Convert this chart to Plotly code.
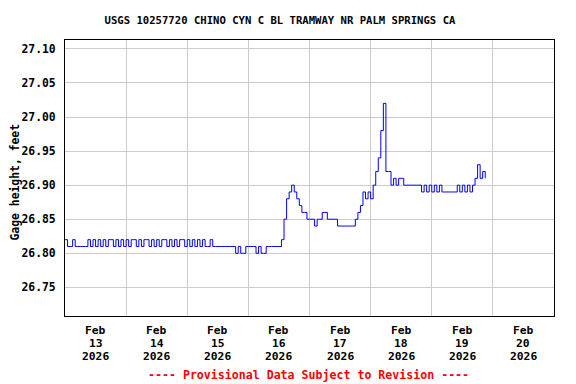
import pandas as pd
import plotly.graph_objects as go

# Hourly gage height readings (feet)
feb13 = [26.82, 26.81, 26.81, 26.82, 26.81, 26.81, 26.81, 26.81, 26.81, 26.82, 26.81, 26.82,
         26.81, 26.82, 26.81, 26.82, 26.81, 26.82, 26.82, 26.81, 26.82, 26.81, 26.82, 26.81]
feb14 = [26.82, 26.81, 26.82, 26.82, 26.81, 26.82, 26.81, 26.82, 26.82, 26.81, 26.82, 26.81,
         26.82, 26.81, 26.82, 26.82, 26.81, 26.82, 26.81, 26.82, 26.81, 26.82, 26.82, 26.81]
feb15 = [26.82, 26.81, 26.82, 26.81, 26.82, 26.81, 26.82, 26.81, 26.81, 26.82, 26.81, 26.81,
         26.81, 26.81, 26.81, 26.81, 26.81, 26.81, 26.81, 26.80, 26.81, 26.80, 26.80, 26.81]
feb16 = [26.81, 26.81, 26.81, 26.80, 26.81, 26.80, 26.80, 26.81, 26.81, 26.81, 26.81, 26.81,
         26.81, 26.82, 26.85, 26.88, 26.89, 26.90, 26.89, 26.88, 26.87, 26.86, 26.86, 26.85]
feb17 = [26.85, 26.85, 26.84, 26.85, 26.85, 26.86, 26.86, 26.85, 26.85, 26.85, 26.85, 26.84,
         26.84, 26.84, 26.84, 26.84, 26.84, 26.84, 26.85, 26.86, 26.87, 26.89, 26.88, 26.89]
feb18 = [26.88, 26.90, 26.92, 26.94, 26.98, 27.02, 26.92, 26.92, 26.90, 26.91, 26.90, 26.91,
         26.91, 26.90, 26.90, 26.90, 26.90, 26.90, 26.90, 26.90, 26.89, 26.90, 26.89, 26.90]
feb19 = [26.89, 26.90, 26.89, 26.90, 26.89, 26.89, 26.89, 26.89, 26.89, 26.89, 26.90, 26.89,
         26.90, 26.89, 26.90, 26.89, 26.90, 26.91, 26.93, 26.91, 26.92, 26.91]

values = feb13 + feb14 + feb15 + feb16 + feb17 + feb18 + feb19
times = pd.date_range("2026-02-13 00:00", periods=len(values), freq="h")

month_labels = ["Feb"] * 8
day_numbers = ["13", "14", "15", "16", "17", "18", "19", "20"]
year_labels = ["2026"] * 8
label_pos = pd.date_range("2026-02-13 12:00", periods=8, freq="D")
grid_pos = pd.date_range("2026-02-14 00:00", periods=7, freq="D")
y_ticks = [26.75, 26.80, 26.85, 26.90, 26.95, 27.00, 27.05, 27.10]

FONT = "DejaVu Sans Mono"
W, H = 568, 376          # page has an 8px body margin
ML, MR, MT, MB = 57, 22, 32, 68
PH = H - MT - MB
PW = W - ML - MR


def py(page_y):
    # page pixel y -> paper y
    return (MT + PH + 8 - page_y) / PH


def px(page_x):
    return (page_x - 8 - ML) / PW


fig = go.Figure()
fig.add_trace(go.Scatter(x=times, y=values, mode="lines", line=dict(color="#0000ff", width=1, shape="hv"),
                         hoverinfo="skip", showlegend=False))

fig.update_layout(
    width=W, height=H,
    margin=dict(l=ML, r=MR, t=MT, b=MB, autoexpand=False),
    paper_bgcolor="white", plot_bgcolor="white",
    title=dict(text="<b>USGS 10257720 CHINO CYN C BL TRAMWAY NR PALM SPRINGS CA</b>",
               x=272 / W, xref="container", xanchor="center", y=1 - 12 / H, yanchor="middle",
               font=dict(family=FONT, size=10.6, color="black")),
    xaxis=dict(range=["2026-02-13 00:00", "2026-02-21 00:00"], tickmode="array",
               tickvals=label_pos, showticklabels=False, automargin=False,
               showgrid=False, ticks="", zeroline=False,
               showline=True, linecolor="black", linewidth=1, mirror=True,
               minor=dict(tickmode="array", tickvals=grid_pos, showgrid=True, gridcolor="#cccccc", gridwidth=1, ticks="")),
    yaxis=dict(range=[26.708, 27.113], tickmode="array", tickvals=y_ticks,
               ticktext=["<b>%.2f</b>" % v for v in y_ticks], automargin=False,
               showgrid=True, gridcolor="#cccccc", gridwidth=1, zeroline=False,
               showline=True, linecolor="black", linewidth=1, mirror=True, ticks="",
               ticklabelstandoff=6,
               tickfont=dict(family=FONT, size=11.4, color="black")),
)

for rows, page_y in ((month_labels, 330), (day_numbers, 343), (year_labels, 356)):
    for xv, txt in zip(label_pos, rows):
        fig.add_annotation(text="<b>%s</b>" % txt, xref="x", yref="paper", x=xv, y=py(page_y),
                           xanchor="center", yanchor="middle", showarrow=False,
                           font=dict(family=FONT, size=11.3, color="black"))

fig.add_annotation(text="<b>Gage height, feet</b>", textangle=-90,
                   xref="paper", yref="paper", x=px(14.5), y=py(182), xanchor="center", yanchor="middle",
                   showarrow=False, font=dict(family=FONT, size=11.4, color="black"))
fig.add_annotation(text="<b>---- Provisional Data Subject to Revision ----</b>",
                   xref="paper", yref="paper", x=px(308), y=py(375), xanchor="center", yanchor="middle",
                   showarrow=False, font=dict(family=FONT, size=11.6, color="#ff0000"))

fig.write_html("out.html")
